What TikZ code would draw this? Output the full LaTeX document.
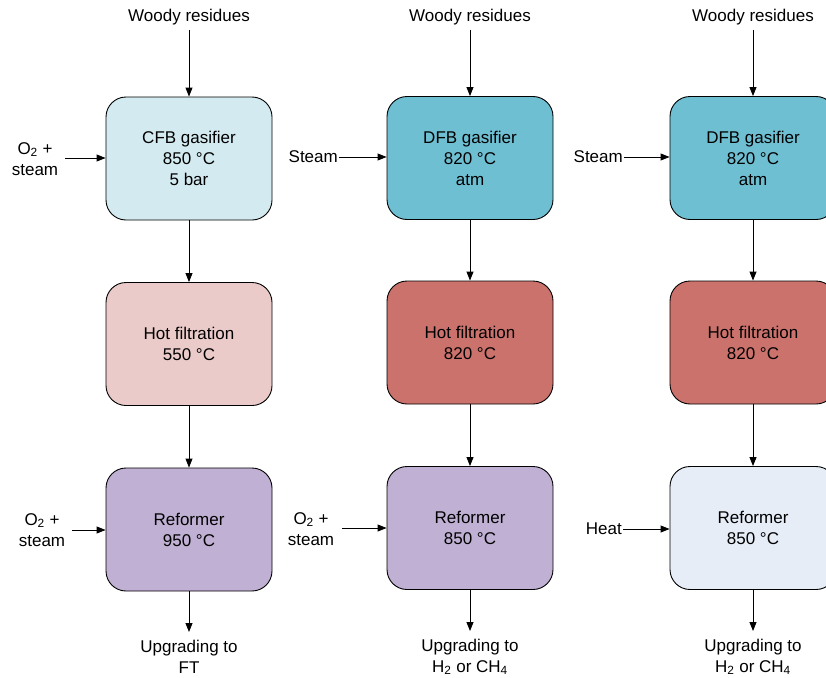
\documentclass[tikz,border=0pt]{standalone}
\usepackage{fontspec}
\setmainfont{Liberation Sans}
\usetikzlibrary{arrows.meta}
\definecolor{cfbblue}{HTML}{D3EBF0}
\definecolor{dfbblue}{HTML}{6FBFD3}
\definecolor{filtpink}{HTML}{EBCBCA}
\definecolor{filtred}{HTML}{CC726C}
\definecolor{refpurple}{HTML}{C0B0D3}
\definecolor{refpale}{HTML}{E6EDF7}
\tikzset{
  unit/.style={draw=black, line width=0.9pt, rounded corners=20pt,
    minimum width=166pt, minimum height=123pt, align=center,
    inner sep=0pt, font=\fontsize{17}{21}\selectfont},
  lbl/.style={align=center, inner sep=1pt, font=\fontsize{17}{21}\selectfont},
  flow/.style={draw=black, line width=0.9pt, -{Triangle[length=9pt,width=7pt]}}
}
\begin{document}
\begin{tikzpicture}[x=1pt, y=-1pt]
\useasboundingbox (0,0) rectangle (826,677);
\clip (0,0) rectangle (826,677);

% ---- CFB route ----
\node[unit, fill=cfbblue] (g1) at (189,158.5) {CFB gasifier\\850 °C\\5 bar};
\node[unit, fill=filtpink] (f1) at (189,344) {Hot filtration\\550 °C};
\node[unit, fill=refpurple] (r1) at (189,529.5) {Reformer\\950 °C};
\node[lbl] (w1) at (189,17) {Woody residues};
\node[lbl] (i1) at (35,159) {O\textsubscript{2} +\\steam};
\node[lbl] (j1) at (42,530) {O\textsubscript{2} +\\steam};
\node[lbl] (o1) at (189,657) {Upgrading to\\FT};
\coordinate (o1t) at (189,632);

% ---- DFB route, catalytic reformer ----
\node[unit, fill=dfbblue] (g2) at (470,158) {DFB gasifier\\820 °C\\atm};
\node[unit, fill=filtred] (f2) at (470,342.5) {Hot filtration\\820 °C};
\node[unit, fill=refpurple] (r2) at (470,528) {Reformer\\850 °C};
\node[lbl] (w2) at (470,17) {Woody residues};
\node[lbl, anchor=east] (i2) at (339,157) {Steam};
\node[lbl] (j2) at (311,529) {O\textsubscript{2} +\\steam};
\node[lbl] (o2) at (470,657) {Upgrading to\\H\textsubscript{2} or CH\textsubscript{4}};
\coordinate (o2t) at (470,631);

% ---- DFB route, heated reformer ----
\node[unit, fill=dfbblue] (g3) at (753,158) {DFB gasifier\\820 °C\\atm};
\node[unit, fill=filtred] (f3) at (753,342.5) {Hot filtration\\820 °C};
\node[unit, fill=refpale] (r3) at (753,528) {Reformer\\850 °C};
\node[lbl] (w3) at (753,17) {Woody residues};
\node[lbl, anchor=east] (i3) at (624,157) {Steam};
\node[lbl, anchor=east] (j3) at (623,529) {Heat};
\node[lbl] (o3) at (753,657) {Upgrading to\\H\textsubscript{2} or CH\textsubscript{4}};
\coordinate (o3t) at (753,631);

% ---- flows ----
\draw[flow] (w1.south) ++(0,4) -- (g1.north);
\draw[flow] (g1) -- (f1);
\draw[flow] (f1) -- (r1);
\draw[flow] (r1) -- (o1t);
\draw[flow] (65,158) -- (g1.west |- 0,158);
\draw[flow] (72,530) -- (r1.west |- 0,530);

\draw[flow] (w2.south) ++(0,4) -- (g2.north);
\draw[flow] (g2) -- (f2);
\draw[flow] (f2) -- (r2);
\draw[flow] (r2) -- (o2t);
\draw[flow] (i2.east) -- (g2.west |- i2.east);
\draw[flow] (342,528) -- (r2.west |- 0,528);

\draw[flow] (w3.south) ++(0,4) -- (g3.north);
\draw[flow] (g3) -- (f3);
\draw[flow] (f3) -- (r3);
\draw[flow] (r3) -- (o3t);
\draw[flow] (i3.east) -- (g3.west |- i3.east);
\draw[flow] (j3.east) -- (r3.west |- j3.east);
\end{tikzpicture}
\end{document}
